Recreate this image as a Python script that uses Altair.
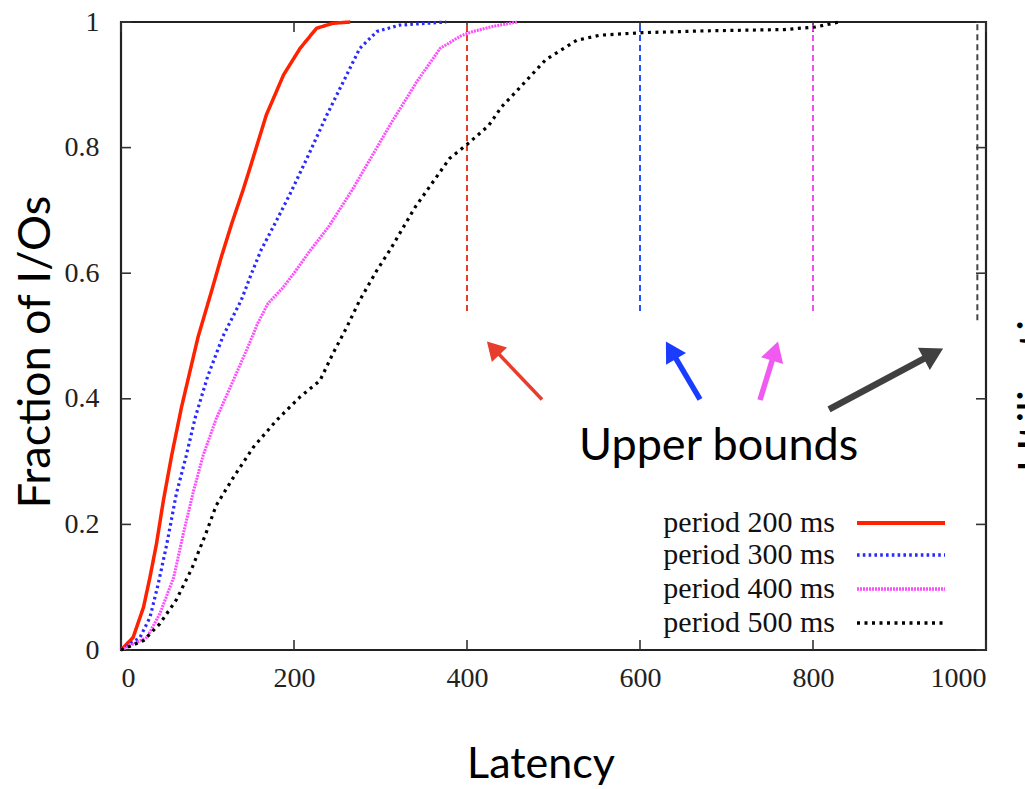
import math
import altair as alt
import pandas as pd

# ---------------- data ----------------
series_names = ["period 200 ms", "period 300 ms", "period 400 ms", "period 500 ms"]

red_x = [0, 14, 26, 33.5, 41, 49, 58.6, 70, 89, 105, 116, 128, 141, 149, 168, 188, 207, 226, 245, 265]
red_y = [0, 0.02, 0.068, 0.116, 0.169, 0.238, 0.31, 0.387, 0.498, 0.573, 0.626, 0.679, 0.732, 0.767,
         0.852, 0.916, 0.958, 0.99, 0.998, 1.0]

blue_x = [0, 22, 33.5, 43, 53, 64, 75, 86, 100, 118, 139, 151, 162, 178, 195, 215, 238, 261, 276, 296, 322, 376]
blue_y = [0, 0.02, 0.052, 0.105, 0.169, 0.249, 0.307, 0.371, 0.435, 0.5, 0.557, 0.6, 0.637, 0.679, 0.725,
          0.783, 0.852, 0.916, 0.958, 0.985, 0.995, 1.0]

mag_x = [0, 30, 45, 61, 72, 84, 95, 110, 130, 145, 158, 170, 186, 200, 217, 240, 267, 284, 311, 342, 369,
         393, 407, 430, 458]
mag_y = [0, 0.02, 0.058, 0.116, 0.185, 0.254, 0.31, 0.368, 0.43, 0.477, 0.52, 0.552, 0.575, 0.6, 0.633,
         0.674, 0.732, 0.772, 0.836, 0.905, 0.958, 0.978, 0.985, 0.993, 1.0]

black_x = [0, 26, 45, 64, 82, 98, 110, 130, 153, 180, 207, 230, 245, 261, 276, 296, 311, 340, 380, 400,
           425, 440, 456, 491, 527, 554, 603, 678, 767, 803, 830]
black_y = [0, 0.015, 0.042, 0.08, 0.13, 0.185, 0.23, 0.275, 0.323, 0.366, 0.403, 0.429, 0.472, 0.514,
           0.557, 0.605, 0.637, 0.705, 0.783, 0.805, 0.835, 0.865, 0.888, 0.94, 0.971, 0.979, 0.983,
           0.986, 0.988, 0.992, 1.0]

bound_x = [400, 600, 800, 990]
bound_lo = [0.54, 0.54, 0.54, 0.525]
bound_hi = [1.0, 1.0, 1.0, 1.0]

arrow_tail_x = [486.7, 669.4, 738.7, 818.5]
arrow_tail_y = [0.399, 0.399, 0.398, 0.383]
arrow_tip_x = [423.1, 630.0, 759.5, 950.3]
arrow_tip_y = [0.491, 0.491, 0.491, 0.480]

x_ticks = [0, 200, 400, 600, 800, 1000]
y_ticks = [0, 0.2, 0.4, 0.6, 0.8, 1.0]

annotation_text = "Upper bounds"
x_title = "Latency"
y_title = "Fraction of I/Os"
cut_title = "Utilization"

# ---------------- styles ----------------
W, H = 865, 628
line_colors = ["#ff2200", "#2a2aff", "#ff4cff", "#000000"]
line_dash = [[1, 0], [2.6, 3.2], [2, 1], [3, 4.5]]
line_width = [3.5, 3.2, 3.0, 3.2]
bound_colors = ["#e63c2c", "#2050ff", "#f050f0", "#444444"]
arrow_colors = ["#e83c2c", "#1a3cff", "#f05af0", "#404040"]
arrow_width = [3.5, 5.5, 5.5, 6.5]
head_len = [20, 22, 22, 24]

serif = "Liberation Serif"
sans = "Lato"

xs = alt.Scale(domain=[0, 1000], nice=False, zero=False)
ys = alt.Scale(domain=[0, 1], nice=False, zero=False)

layers = []

# base layer with axes
base_df = pd.DataFrame({"x": [0], "y": [0]})
axes = alt.Chart(base_df).mark_point(opacity=0).encode(
    x=alt.X("x:Q", scale=xs, axis=alt.Axis(values=x_ticks, ticks=False, domain=False, grid=False,
                                           title=None, labelFont=serif, labelFontSize=28,
                                           labelColor="#222", labelPadding=14, format="d")),
    y=alt.Y("y:Q", scale=ys, axis=alt.Axis(values=y_ticks, ticks=False, domain=False, grid=False,
                                           title=None, labelFont=serif, labelFontSize=28,
                                           labelColor="#222", labelPadding=22, format="~g")),
)
layers.append(axes)

# inward tick marks
xt = pd.DataFrame({"x": x_ticks})
yt = pd.DataFrame({"y": y_ticks})
tick_style = dict(color="#333", strokeWidth=1.6)
layers.append(alt.Chart(xt).mark_rule(**tick_style).encode(
    x=alt.X("x:Q", scale=xs), y=alt.value(H), y2=alt.value(H - 10)))
layers.append(alt.Chart(xt).mark_rule(**tick_style).encode(
    x=alt.X("x:Q", scale=xs), y=alt.value(0), y2=alt.value(10)))
layers.append(alt.Chart(yt).mark_rule(**tick_style).encode(
    y=alt.Y("y:Q", scale=ys), x=alt.value(0), x2=alt.value(10)))
layers.append(alt.Chart(yt).mark_rule(**tick_style).encode(
    y=alt.Y("y:Q", scale=ys), x=alt.value(W), x2=alt.value(W - 10)))

# upper bound dashed lines
bdf = pd.DataFrame({"x": bound_x, "lo": bound_lo, "hi": bound_hi, "c": bound_colors})
layers.append(alt.Chart(bdf).mark_rule(strokeDash=[6, 4], strokeWidth=2).encode(
    x=alt.X("x:Q", scale=xs), y=alt.Y("lo:Q", scale=ys), y2="hi:Q",
    color=alt.Color("c:N", scale=None)))

# CDF curves
all_x = [red_x, blue_x, mag_x, black_x]
all_y = [red_y, blue_y, mag_y, black_y]
for i, name in enumerate(series_names):
    df = pd.DataFrame({"latency": all_x[i], "fraction": all_y[i], "series": name})
    layers.append(alt.Chart(df).mark_line(
        color=line_colors[i], strokeDash=line_dash[i], strokeWidth=line_width[i]
    ).encode(x=alt.X("latency:Q", scale=xs), y=alt.Y("fraction:Q", scale=ys), order="latency:Q"))

# arrows
rows = []
for i in range(4):
    dxp = (arrow_tip_x[i] - arrow_tail_x[i]) * W / 1000
    dyp = -(arrow_tip_y[i] - arrow_tail_y[i]) * H
    L = math.hypot(dxp, dyp)
    ux, uy = dxp / L, dyp / L
    hl = head_len[i]
    cx = arrow_tip_x[i] - ux * hl * 0.45 * 1000 / W
    cy = arrow_tip_y[i] + uy * hl * 0.45 / H
    sx = arrow_tip_x[i] - ux * hl * 0.7 * 1000 / W
    sy = arrow_tip_y[i] + uy * hl * 0.7 / H
    ang = (math.degrees(math.atan2(ux, -uy)) + 360) % 360
    rows.append({"tx": arrow_tail_x[i], "ty": arrow_tail_y[i], "sx": sx, "sy": sy,
                 "cx": cx, "cy": cy, "ang": ang, "c": arrow_colors[i], "w": arrow_width[i],
                 "s": hl * hl * 1.1})
adf = pd.DataFrame(rows)
layers.append(alt.Chart(adf).mark_rule(strokeCap="butt").encode(
    x=alt.X("tx:Q", scale=xs), y=alt.Y("ty:Q", scale=ys), x2="sx:Q", y2="sy:Q",
    color=alt.Color("c:N", scale=None), strokeWidth=alt.StrokeWidth("w:Q", scale=None)))
layers.append(alt.Chart(adf).mark_point(shape="triangle-up", filled=True, opacity=1).encode(
    x=alt.X("cx:Q", scale=xs), y=alt.Y("cy:Q", scale=ys),
    angle=alt.Angle("ang:Q", scale=None), size=alt.Size("s:Q", scale=None),
    color=alt.Color("c:N", scale=None)))

# annotation text
layers.append(alt.Chart(base_df).mark_text(
    text=annotation_text, font=sans, fontSize=45, align="left", baseline="alphabetic", color="#000"
).encode(x=alt.value(458), y=alt.value(438)))

# legend (gnuplot style: label left of sample)
legend_rows_y = [501, 533, 567, 601]
for i, name in enumerate(series_names):
    layers.append(alt.Chart(base_df).mark_text(
        text=name, font=serif, fontSize=30, align="right", baseline="middle", color="#111"
    ).encode(x=alt.value(714), y=alt.value(legend_rows_y[i])))
    layers.append(alt.Chart(base_df).mark_rule(
        color=line_colors[i], strokeDash=line_dash[i], strokeWidth=line_width[i] + 0.3
    ).encode(x=alt.value(736), x2=alt.value(824), y=alt.value(legend_rows_y[i])))

# axis titles as text
layers.append(alt.Chart(base_df).mark_text(
    text=x_title, font=sans, fontSize=43, align="center", baseline="alphabetic", color="#000"
).encode(x=alt.value(420), y=alt.value(756)))
layers.append(alt.Chart(base_df).mark_text(
    text=y_title, font=sans, fontSize=45, align="center", baseline="alphabetic", angle=270, color="#000"
).encode(x=alt.value(-71), y=alt.value(330)))
layers.append(alt.Chart(base_df).mark_text(
    text=cut_title, font=sans, fontSize=45, align="left", baseline="alphabetic", angle=270, color="#000"
).encode(x=alt.value(929), y=alt.value(450)))

chart = alt.layer(*layers).properties(
    width=W, height=H,
    autosize=alt.AutoSizeParams(type="none"),
    padding={"left": 121, "top": 22, "right": 39, "bottom": 139},
    background="white",
).configure_view(stroke="#222", strokeWidth=2.2)

chart.save("out.html", embed_options={"renderer": "svg", "actions": False})
